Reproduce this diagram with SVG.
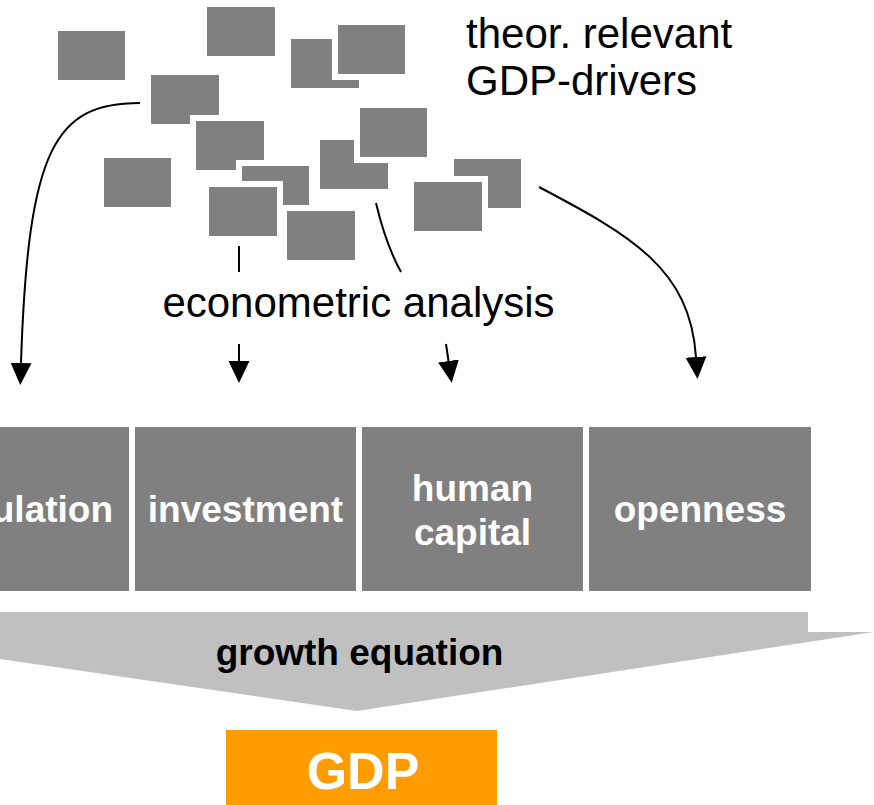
<svg xmlns="http://www.w3.org/2000/svg" width="874" height="805" viewBox="0 0 874 805">
<style>
.pad{fill:#ffffff}
.sq{fill:#808080}
.lbl{font-family:"Liberation Sans",Arial,sans-serif;fill:#000000}
.box{fill:#808080}
.bt{font-family:"Liberation Sans",Arial,sans-serif;font-weight:bold;font-size:37px;fill:#ffffff;text-anchor:middle}
.ln{fill:none;stroke:#000000;stroke-width:2}
</style>
<defs>
<marker id="ah" markerUnits="userSpaceOnUse" markerWidth="22" markerHeight="22" viewBox="0 0 21 20" refX="0" refY="10" orient="auto">
<path d="M0,0 L21,10 L0,20 z" fill="#000000"/>
</marker>
</defs>
<rect x="0" y="0" width="874" height="805" fill="#ffffff"/>

<g id="drivers">
<g id="d1"><rect class="pad" x="52" y="25" width="79" height="61"/><rect class="sq" x="58" y="31" width="67" height="49"/></g>
<g id="d2"><rect class="pad" x="201" y="1" width="80" height="61"/><rect class="sq" x="207" y="7" width="68" height="49"/></g>
<g id="d3"><rect class="pad" x="285" y="33" width="80" height="61"/><rect class="sq" x="291" y="39" width="68" height="49"/></g>
<g id="d4"><rect class="pad" x="332" y="19" width="79" height="61"/><rect class="sq" x="338" y="25" width="67" height="49"/></g>
<g id="d5"><rect class="pad" x="145" y="69" width="80" height="61"/><rect class="sq" x="151" y="75" width="68" height="49"/></g>
<g id="d6"><rect class="pad" x="190" y="115" width="80" height="61"/><rect class="sq" x="196" y="121" width="68" height="49"/></g>
<g id="d7"><rect class="pad" x="236" y="160" width="79" height="61"/><rect class="sq" x="242" y="166" width="67" height="49"/></g>
<g id="d8"><rect class="pad" x="203" y="181" width="80" height="61"/><rect class="sq" x="209" y="187" width="68" height="49"/></g>
<g id="d9"><rect class="pad" x="281" y="205" width="80" height="61"/><rect class="sq" x="287" y="211" width="68" height="49"/></g>
<g id="d10"><rect class="pad" x="98" y="152" width="79" height="61"/><rect class="sq" x="104" y="158" width="67" height="49"/></g>
<g id="d11"><rect class="pad" x="314" y="134" width="80" height="61"/><rect class="sq" x="320" y="140" width="68" height="49"/></g>
<g id="d12"><rect class="pad" x="354" y="102" width="79" height="61"/><rect class="sq" x="360" y="108" width="67" height="49"/></g>
<g id="d13"><rect class="pad" x="448" y="153" width="79" height="61"/><rect class="sq" x="454" y="159" width="67" height="49"/></g>
<g id="d14"><rect class="pad" x="408" y="176" width="80" height="61"/><rect class="sq" x="414" y="182" width="68" height="49"/></g>
</g>

<g id="label-drivers">
<text class="lbl" x="466" y="48" font-size="42">theor. relevant</text>
<text class="lbl" x="466" y="95" font-size="42">GDP-drivers</text>
</g>

<g id="label-econ">
<text class="lbl" x="358.5" y="317" font-size="42" text-anchor="middle">econometric analysis</text>
</g>

<g id="connectors">
<path class="ln" d="M140,103 C55,103 28,148 21,363" marker-end="url(#ah)"/>
<path class="ln" d="M239,246 L239,272"/>
<path class="ln" d="M239,344 L239,361" marker-end="url(#ah)"/>
<path class="ln" d="M376,203 Q386,245 401,272"/>
<path class="ln" d="M446,344 L448.5,361" marker-end="url(#ah)"/>
<path class="ln" d="M539,187 C630,235 690,268 696,357" marker-end="url(#ah)"/>
</g>

<g id="factor-population"><rect class="box" x="-92" y="427" width="221" height="164"/><text class="bt" x="18.5" y="522">population</text></g>
<g id="factor-investment"><rect class="box" x="135" y="427" width="221" height="164"/><text class="bt" x="245.5" y="522">investment</text></g>
<g id="factor-human-capital"><rect class="box" x="362" y="427" width="221" height="164"/><text class="bt" x="472.5" y="501">human</text><text class="bt" x="472.5" y="545">capital</text></g>
<g id="factor-openness"><rect class="box" x="589" y="427" width="222" height="164"/><text class="bt" x="700" y="522">openness</text></g>

<g id="growth-equation">
<polygon points="-20,612 808,612 808,632 874,632 357,711 -20,656" fill="#c0c0c0"/>
<text class="lbl" x="359.5" y="665" font-size="37" font-weight="bold" text-anchor="middle">growth equation</text>
</g>

<g id="gdp">
<rect x="226" y="730" width="271" height="80" fill="#ff9c00"/>
<text x="363" y="789" font-family="'Liberation Sans',Arial,sans-serif" font-weight="bold" font-size="52" fill="#ffffff" text-anchor="middle">GDP</text>
</g>
</svg>
